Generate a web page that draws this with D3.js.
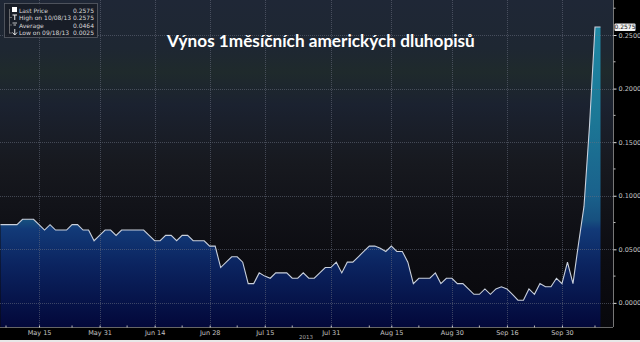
<!DOCTYPE html>
<meta charset="utf-8">
<script src="https://d3js.org/d3.v7.min.js"></script>
<style>
  body { margin: 0; background: #000; }
  svg { display: block; }
</style>
<svg id="chart" width="640" height="342"></svg>
<script>
// trading days, May 6 - Oct 9 2013
var dates = [
  "2013-05-06","2013-05-07","2013-05-08","2013-05-09","2013-05-10","2013-05-13","2013-05-14","2013-05-15","2013-05-16","2013-05-17",
  "2013-05-20","2013-05-21","2013-05-22","2013-05-23","2013-05-24","2013-05-28","2013-05-29","2013-05-30","2013-05-31",
  "2013-06-03","2013-06-04","2013-06-05","2013-06-06","2013-06-07","2013-06-10","2013-06-11","2013-06-12","2013-06-13","2013-06-14",
  "2013-06-17","2013-06-18","2013-06-19","2013-06-20","2013-06-21","2013-06-24","2013-06-25","2013-06-26","2013-06-27","2013-06-28",
  "2013-07-01","2013-07-02","2013-07-03","2013-07-05","2013-07-08","2013-07-09","2013-07-10","2013-07-11","2013-07-12","2013-07-15",
  "2013-07-16","2013-07-17","2013-07-18","2013-07-19","2013-07-22","2013-07-23","2013-07-24","2013-07-25","2013-07-26","2013-07-29",
  "2013-07-30","2013-07-31",
  "2013-08-01","2013-08-02","2013-08-05","2013-08-06","2013-08-07","2013-08-08","2013-08-09","2013-08-12","2013-08-13","2013-08-14",
  "2013-08-15","2013-08-16","2013-08-19","2013-08-20","2013-08-21","2013-08-22","2013-08-23","2013-08-26","2013-08-27","2013-08-28",
  "2013-08-29","2013-08-30",
  "2013-09-03","2013-09-04","2013-09-05","2013-09-06","2013-09-09","2013-09-10","2013-09-11","2013-09-12","2013-09-13","2013-09-16",
  "2013-09-17","2013-09-18","2013-09-19","2013-09-20","2013-09-23","2013-09-24","2013-09-25","2013-09-26","2013-09-27","2013-09-30",
  "2013-10-01","2013-10-02","2013-10-03","2013-10-04","2013-10-07","2013-10-08","2013-10-09"
];

var yields = [
  0.073,0.073,0.073,0.073,0.078,0.078,0.078,0.073,0.068,0.073,
  0.068,0.068,0.068,0.073,0.073,0.068,0.068,0.058,0.063,
  0.068,0.068,0.063,0.068,0.068,0.068,0.068,0.068,0.063,0.058,
  0.058,0.063,0.063,0.058,0.063,0.063,0.058,0.058,0.058,0.053,
  0.053,0.033,0.038,0.043,0.043,0.038,0.018,0.018,0.028,0.025,
  0.023,0.028,0.028,0.028,0.023,0.023,0.028,0.023,0.023,0.028,
  0.033,0.033,
  0.038,0.028,0.038,0.038,0.043,0.048,0.053,0.053,0.051,0.048,
  0.053,0.048,0.048,0.038,0.018,0.023,0.023,0.023,0.028,0.018,
  0.023,0.023,
  0.018,0.018,0.013,0.008,0.008,0.013,0.008,0.013,0.015,0.013,
  0.008,0.0025,0.0025,0.013,0.008,0.018,0.015,0.015,0.023,0.018,
  0.038,0.018,0.055,0.09,0.165,0.2575,0.2575
];

var tickDates = ["2013-05-15","2013-05-31","2013-06-14","2013-06-28","2013-07-15",
                 "2013-07-31","2013-08-15","2013-08-30","2013-09-16","2013-09-30"];
var minorTickDates = ["2013-05-07","2013-05-23","2013-06-07","2013-06-21","2013-07-08","2013-07-22",
                      "2013-08-09","2013-08-22","2013-09-09","2013-09-23","2013-10-08"];
var yTicks = [0, 0.05, 0.10, 0.15, 0.20, 0.25];
var yMinorTicks = [0.025, 0.075, 0.125, 0.175, 0.225, 0.275];

var legendRows = [
  {label: "Last Price", value: "0.2575"},
  {label: "High on 10/08/13", value: "0.2575"},
  {label: "Average", value: "0.0464"},
  {label: "Low on 09/18/13", value: "0.0025"}
];
var title = "Výnos 1měsíčních amerických dluhopisů";
var lastPrice = "0.2575";

var svg = d3.select("#chart");
var plotRight = 613, plotBottom = 327;

var x = d3.scalePoint().domain(dates).range([0.5, 600.5]);
var y = d3.scaleLinear().domain([-0.0225, 0.278]).range([plotBottom, 5]);
var parse = d3.timeParse("%Y-%m-%d");
var fmt = d3.timeFormat("%b %d");

var defs = svg.append("defs");
var bg = defs.append("linearGradient").attr("id", "bg")
  .attr("x1", 0).attr("y1", 0).attr("x2", 0).attr("y2", 1);
[[0, "#1f2736"], [0.15, "#1e2732"], [0.22, "#1f2a2c"], [0.32, "#1b2230"], [0.5, "#17191f"],
 [0.65, "#111218"], [0.8, "#0c0c11"], [1, "#08080c"]].forEach(function(s) {
  bg.append("stop").attr("offset", s[0]).attr("stop-color", s[1]);
});

var fill = defs.append("linearGradient").attr("id", "fill")
  .attr("gradientUnits", "userSpaceOnUse")
  .attr("x1", 0).attr("y1", plotBottom).attr("x2", 0).attr("y2", 30);
[[0, "#03083a"], [0.21, "#0b2460"], [0.33, "#123a78"], [0.36, "#17507f"], [0.45, "#1a628c"],
 [0.7, "#1c7796"], [1, "#1f88a4"]].forEach(function(s) {
  fill.append("stop").attr("offset", s[0]).attr("stop-color", s[1]);
});

// background
svg.append("rect").attr("width", 640).attr("height", 342).attr("fill", "#000");
svg.append("rect").attr("x", 0).attr("y", 0).attr("width", plotRight).attr("height", plotBottom)
  .attr("fill", "url(#bg)");

// area + line
var area = d3.area()
  .x(function(d, i) { return x(dates[i]); })
  .y0(plotBottom)
  .y1(function(d) { return y(d); });
svg.append("path").datum(yields).attr("d", area).attr("fill", "url(#fill)");

// grid
svg.append("g").selectAll("line").data(yTicks).enter().append("line")
  .attr("x1", 0).attr("x2", plotRight)
  .attr("y1", function(d) { return Math.round(y(d)) + 0.5; })
  .attr("y2", function(d) { return Math.round(y(d)) + 0.5; })
  .attr("stroke", "#6a7080").attr("stroke-opacity", 0.55).attr("stroke-dasharray", "1,1");
svg.append("g").selectAll("line").data(tickDates).enter().append("line")
  .attr("x1", function(d) { return Math.round(x(d)) + 0.5; })
  .attr("x2", function(d) { return Math.round(x(d)) + 0.5; })
  .attr("y1", 0).attr("y2", plotBottom)
  .attr("stroke", "#6a7080").attr("stroke-opacity", 0.55).attr("stroke-dasharray", "1,1");

var line = d3.line()
  .x(function(d, i) { return x(dates[i]); })
  .y(function(d) { return y(d); });
svg.append("path").datum(yields).attr("d", line)
  .attr("fill", "none").attr("stroke", "#c9d0dc").attr("stroke-width", 1.1);

// right axis
var yAxis = svg.append("g").attr("transform", "translate(" + (plotRight + 0.5) + ",0)")
  .call(d3.axisRight(y).tickValues(yTicks).tickFormat(d3.format(".4f")).tickSize(3).tickPadding(2));
yAxis.select(".domain").attr("stroke", "#777").attr("d", "M0,0V" + plotBottom);
yAxis.selectAll(".tick line").attr("stroke", "#ddd");
yAxis.selectAll("text").attr("fill", "#c4c4c4").style("font", "6.5px 'DejaVu Sans'");
svg.append("g").selectAll("line").data(yMinorTicks).enter().append("line")
  .attr("x1", plotRight + 0.5).attr("x2", plotRight + 2.5)
  .attr("y1", function(d) { return y(d); }).attr("y2", function(d) { return y(d); })
  .attr("stroke", "#bbb");

// last price tag
var tagY = y(0.2575);
svg.append("rect").attr("x", 614.5).attr("y", tagY - 3.5).attr("width", 21).attr("height", 7.5)
  .attr("fill", "#f2f2f2").attr("rx", 1);
svg.append("text").attr("x", 625).attr("y", tagY + 0.3).attr("text-anchor", "middle")
  .attr("dominant-baseline", "middle").attr("fill", "#111")
  .style("font", "6px 'DejaVu Sans'").text(lastPrice);

// bottom axis
var xAxis = svg.append("g").attr("transform", "translate(0," + (plotBottom + 0.5) + ")")
  .call(d3.axisBottom(x).tickValues(tickDates).tickSize(-2).tickPadding(3)
    .tickFormat(function(d) { return fmt(parse(d)); }));
xAxis.select(".domain").attr("stroke", "#666").attr("d", "M0,0H" + plotRight);
xAxis.selectAll(".tick line").attr("stroke", "#ccc");
xAxis.selectAll("text").attr("fill", "#c4c4c4").style("font", "6.5px 'DejaVu Sans'");
svg.append("g").selectAll("line").data(minorTickDates).enter().append("line")
  .attr("x1", function(d) { return x(d); }).attr("x2", function(d) { return x(d); })
  .attr("y1", plotBottom - 1.5).attr("y2", plotBottom + 0.5)
  .attr("stroke", "#bbb");
svg.append("text").attr("x", 306).attr("y", 339).attr("text-anchor", "middle")
  .attr("fill", "#aaa").style("font", "5.5px 'DejaVu Sans'").text("2013");
svg.append("rect").attr("x", 0).attr("y", 340).attr("width", 640).attr("height", 2).attr("fill", "#e8e8e8");

// legend box
var lg = svg.append("g");
lg.append("rect").attr("x", 4.5).attr("y", 3.5).attr("width", 93).attr("height", 34)
  .attr("fill", "#161b24").attr("fill-opacity", 0.8).attr("stroke", "#5a5f68").attr("stroke-width", 0.8);
lg.append("path").attr("d", "M9.5,9V33.5M9.5,17.5H12M9.5,25H12M9.5,33H12")
  .attr("stroke", "#888").attr("fill", "none").attr("stroke-width", 0.7);
lg.selectAll("text.lab").data(legendRows).enter().append("text").attr("class", "lab")
  .attr("x", 19).attr("y", function(d, i) { return 12.5 + i * 7.5; })
  .attr("fill", "#d8d8d8").style("font", "6px 'DejaVu Sans'").text(function(d) { return d.label; });
lg.selectAll("text.val").data(legendRows).enter().append("text").attr("class", "val")
  .attr("x", 94).attr("y", function(d, i) { return 12.5 + i * 7.5; }).attr("text-anchor", "end")
  .attr("fill", "#d8d8d8").style("font", "6px 'DejaVu Sans'").text(function(d) { return d.value; });
// icons
lg.append("rect").attr("x", 12).attr("y", 7).attr("width", 5).attr("height", 5).attr("fill", "#fff");
lg.append("path").attr("d", "M12.5,15H17M14.75,15V20").attr("stroke", "#eee").attr("stroke-width", 1);
lg.append("path").attr("d", "M12.5,23H17M13.5,25H16").attr("stroke", "#eee").attr("stroke-width", 0.8);
lg.append("path").attr("d", "M14.75,29V35M12.5,32.5L14.75,35L17,32.5").attr("stroke", "#eee")
  .attr("stroke-width", 0.9).attr("fill", "none");

// title
var t = svg.append("text").attr("x", 167).attr("y", 47)
  .attr("fill", "#fff").style("font", "bold 17px Lato").text(title);
var w = t.node().getComputedTextLength();
t.style("font-size", (17 * 308 / w).toFixed(2) + "px");
</script>
